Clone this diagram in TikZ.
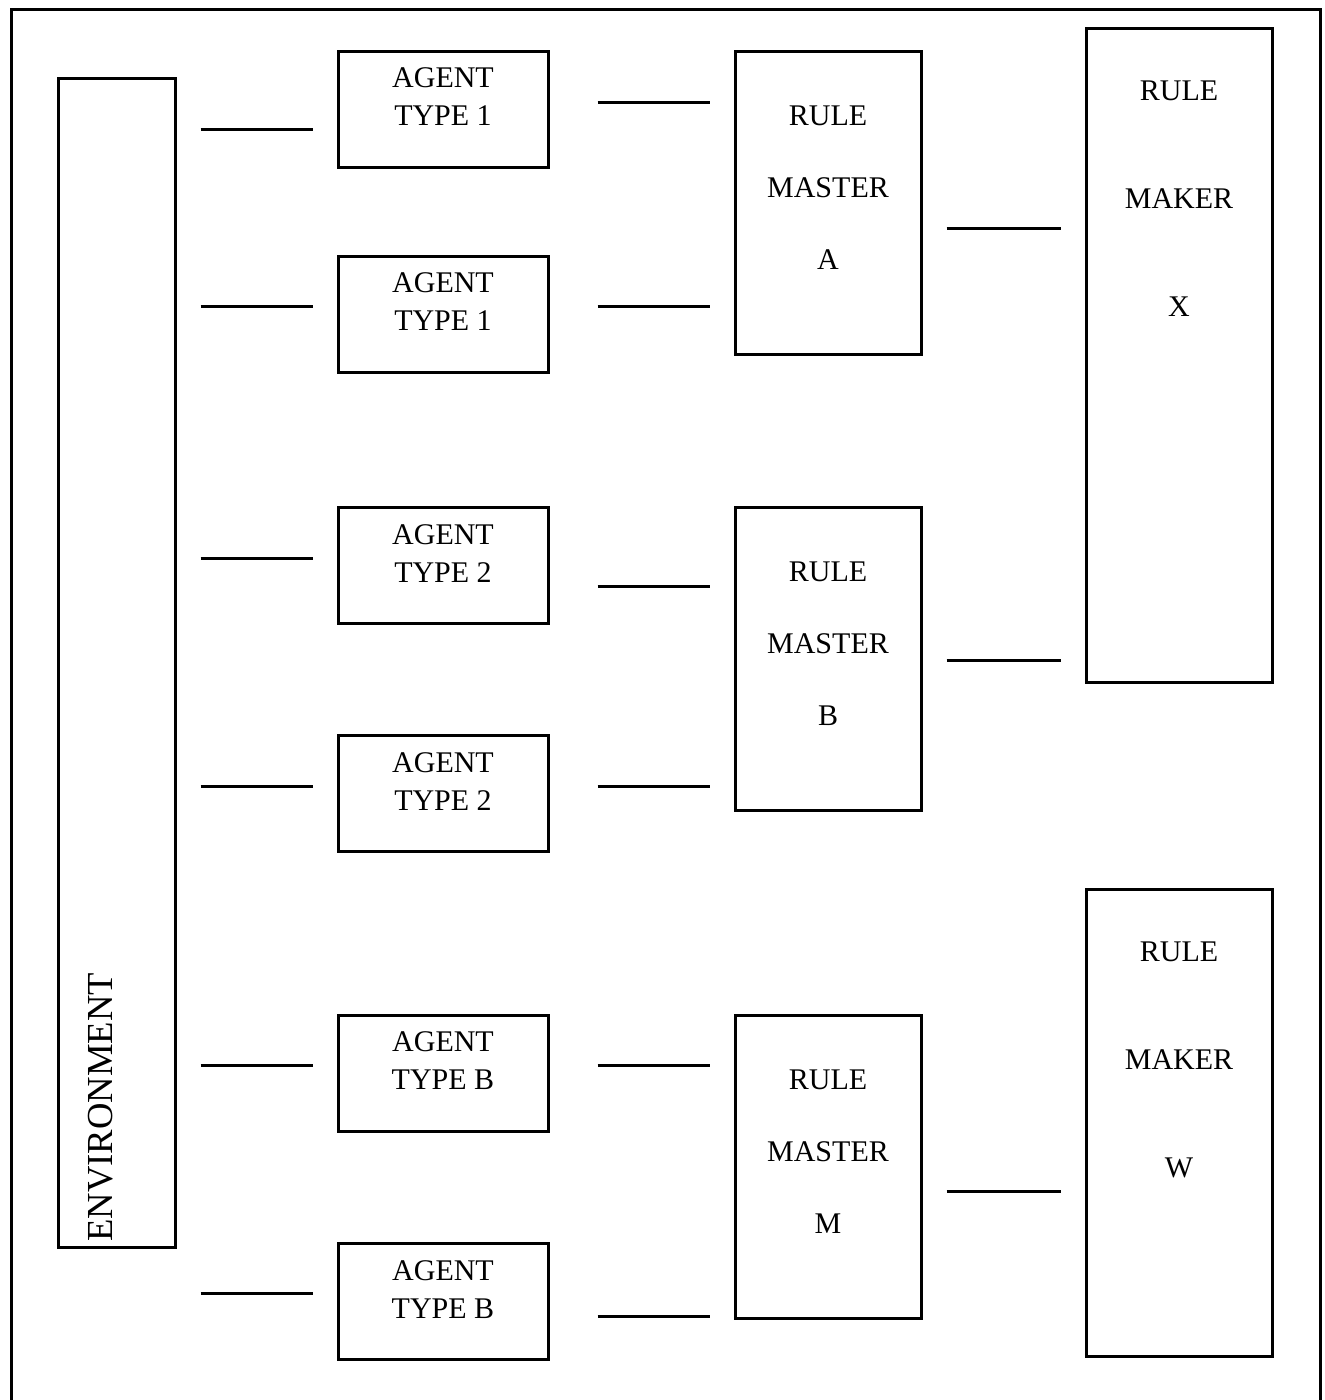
\documentclass[tikz,border=0pt]{standalone}
\usepackage{fontspec}
\setmainfont{Liberation Serif}
\usetikzlibrary{positioning}

\tikzset{
	box/.style={draw, line width=2.25pt, inner sep=0pt},
	agent/.style={box, minimum width=157.5pt, minimum height=87pt},
	master/.style={box, minimum width=139.5pt, minimum height=227.25pt},
	maker/.style={box, minimum width=139.5pt},
	lab/.style={inner sep=0pt, align=center},
	agenttxt/.style={lab, font=\fontsize{22.5}{28.5}\selectfont},
	mastertxt/.style={lab, font=\fontsize{22.5}{54}\selectfont},
	makertxt/.style={lab, font=\fontsize{22.5}{81}\selectfont},
	envtxt/.style={inner sep=0pt, rotate=90, anchor=base west, font=\fontsize{27.5}{33}\selectfont},
	link/.style={line width=2.25pt, shorten <=18pt, shorten >=18pt},
	farlink/.style={link, shorten <=36pt},
}

\begin{document}
\begin{tikzpicture}[x=0.75pt, y=-0.75pt]
			\useasboundingbox (0,0) rectangle (1325,1400);
			\draw[line width=2.25pt] (11,1402) -- (11,9) -- (1320,9) -- (1320,1402);
			\node	(env) at (116.5,662.5) [box, minimum width=87.75pt, minimum height=876.75pt] {};
			\node	(envt) at (112,1242) [envtxt] {ENVIRONMENT};
			\node	(a1) at (443,109) [agent] {};
			\node	(a2) at (443,314) [agent] {};
			\node	(a3) at (443,565.5) [agent] {};
			\node	(a4) at (443,793.5) [agent] {};
			\node	(a5) at (443,1073) [agent] {};
			\node	(a6) at (443,1301.5) [agent] {};
			\node	(a1t) [agenttxt, below=13.5pt of a1.north] {AGENT\\TYPE 1};
			\node	(a2t) [agenttxt, below=13.5pt of a2.north] {AGENT\\TYPE 1};
			\node	(a3t) [agenttxt, below=13.5pt of a3.north] {AGENT\\TYPE 2};
			\node	(a4t) [agenttxt, below=13.5pt of a4.north] {AGENT\\TYPE 2};
			\node	(a5t) [agenttxt, below=13.5pt of a5.north] {AGENT\\TYPE B};
			\node	(a6t) [agenttxt, below=13.5pt of a6.north] {AGENT\\TYPE B};
			\node	(ma) at (828,202.5) [master] {};
			\node	(mb) at (828,658.5) [master] {};
			\node	(mm) at (828,1166.5) [master] {};
			\node	(mat) [mastertxt, below=42pt of ma.north] {RULE\\MASTER\\A};
			\node	(mbt) [mastertxt, below=42pt of mb.north] {RULE\\MASTER\\B};
			\node	(mmt) [mastertxt, below=42pt of mm.north] {RULE\\MASTER\\M};
			\node	(kx) at (1179,355) [maker, minimum height=490.5pt] {};
			\node	(kw) at (1179,1122.5) [maker, minimum height=350.25pt] {};
			\node	(kxt) [makertxt, below=40.5pt of kx.north] {RULE\\MAKER\\X};
			\node	(kwt) [makertxt, below=40.5pt of kw.north] {RULE\\MAKER\\W};
			\draw
			(env.east |- 0,129) edge[link] (a1.west |- 0,129)
			(env.east |- 0,306) edge[link] (a2.west |- 0,306)
			(env.east |- 0,558) edge[link] (a3.west |- 0,558)
			(env.east |- 0,786) edge[link] (a4.west |- 0,786)
			(env.east |- 0,1065) edge[link] (a5.west |- 0,1065)
			(env.east |- 0,1293) edge[link] (a6.west |- 0,1293)
			(a1.east |- 0,102) edge[farlink] (ma.west |- 0,102)
			(a2.east |- 0,306) edge[farlink] (ma.west |- 0,306)
			(a3.east |- 0,586) edge[farlink] (mb.west |- 0,586)
			(a4.east |- 0,786) edge[farlink] (mb.west |- 0,786)
			(a5.east |- 0,1065) edge[farlink] (mm.west |- 0,1065)
			(a6.east |- 0,1316) edge[farlink] (mm.west |- 0,1316)
			(ma.east |- 0,228) edge[link] (kx.west |- 0,228)
			(mb.east |- 0,660) edge[link] (kx.west |- 0,660)
			(mm.east |- 0,1191) edge[link] (kw.west |- 0,1191)
			;
\end{tikzpicture}
\end{document}
